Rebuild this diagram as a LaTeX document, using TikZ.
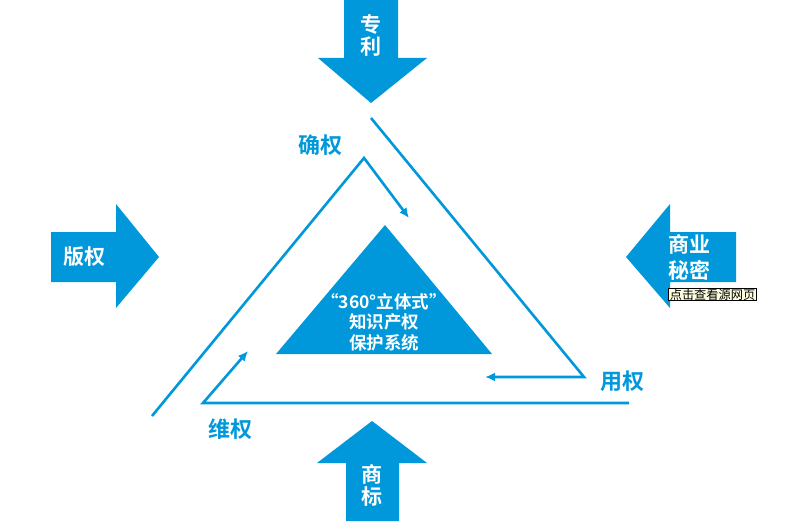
\documentclass[tikz,border=0pt]{standalone}
\usepackage{fontspec}
\setmainfont{Noto Sans CJK SC}
\newfontfamily\cjkbold{Noto Sans CJK SC Bold}
\usetikzlibrary{arrows.meta, positioning}
\definecolor{cblue}{RGB}{0, 152, 218}
\definecolor{ctip}{RGB}{255, 255, 225}
\tikzset{
  bigarrow/.style = {fill=cblue, draw=none},
  arrlabel/.style = {text=white, font=\cjkbold\fontsize{21}{22}\selectfont,
                     align=center, inner sep=0pt},
  steplabel/.style = {text=cblue, font=\cjkbold\fontsize{22}{24}\selectfont,
                      inner sep=0pt},
  flow/.style = {draw=cblue, line width=2.6pt, line join=miter},
  flowarr/.style = {flow, -{Latex[length=10pt, width=9pt]}},
  >=Latex
}

\begin{document}
\begin{tikzpicture}[x=1pt, y=-1pt]
\useasboundingbox (0,0) rectangle (806,532);

% ── Block arrows pointing at the centre ─────────────────────────────────────
% top : patent
\fill[bigarrow] (344,0) -- (398,0) -- (398,58) -- (427,58) -- (371,103)
  -- (318,58) -- (344,58) -- cycle;
\node[arrlabel] (patent) at (371,35) {专\\利};
% left : copyright
\fill[bigarrow] (51,232) -- (116,232) -- (116,204) -- (159,257) -- (116,308)
  -- (116,282) -- (51,282) -- cycle;
\node[arrlabel] (copyright) at (84,257) {版权};
% right : trade secret
\fill[bigarrow] (736,232) -- (670,232) -- (670,204) -- (626,257) -- (670,308)
  -- (670,282) -- (736,282) -- cycle;
\node[arrlabel, font=\cjkbold\fontsize{21}{26}\selectfont] (secret) at (689,257)
  {商业\\秘密};
% bottom : trademark
\fill[bigarrow] (346,521) -- (399,521) -- (399,463) -- (427,463) -- (372,421)
  -- (317,463) -- (346,463) -- cycle;
\node[arrlabel] (mark) at (372,485) {商\\标};

% ── Tooltip box ─────────────────────────────────────────────────────────────
\node[draw=black, fill=ctip, line width=0.6pt, inner xsep=1.5pt, inner ysep=0.5pt,
      font=\fontsize{12.2}{13}\selectfont, anchor=north west] (tip) at (668,288)
      {点击查看源网页};

% ── Centre triangle ─────────────────────────────────────────────────────────
\fill[bigarrow] (385,225) -- (492,354) -- (276,354) -- cycle;
\node[arrlabel, font=\cjkbold\fontsize{17.5}{20.5}\selectfont] (core) at (384,322)
  {“360°立体式”\\知识产权\\保护系统};

% ── Cycle corners ───────────────────────────────────────────────────────────
\coordinate (l0) at (152,416);
\coordinate (l1) at (364,158);
\coordinate (l2) at (409,218);
\coordinate (r0) at (371,118);
\coordinate (r1) at (584,377);
\coordinate (r2) at (485,377);
\coordinate (b0) at (629,403);
\coordinate (b1) at (203,403);
\coordinate (b2) at (248,351);

% ── Cycle arrows ────────────────────────────────────────────────────────────
\draw[flowarr] (l0) -- (l1) -- (l2);
\draw[flowarr] (r0) -- (r1) -- (r2);
\draw[flowarr] (b0) -- (b1) -- (b2);

% ── Step labels ─────────────────────────────────────────────────────────────
\node[steplabel] (confirm) at (320,145) {确权};
\node[steplabel] (use)     at (622,381) {用权};
\node[steplabel] (defend)  at (230,429) {维权};

\end{tikzpicture}
\end{document}
